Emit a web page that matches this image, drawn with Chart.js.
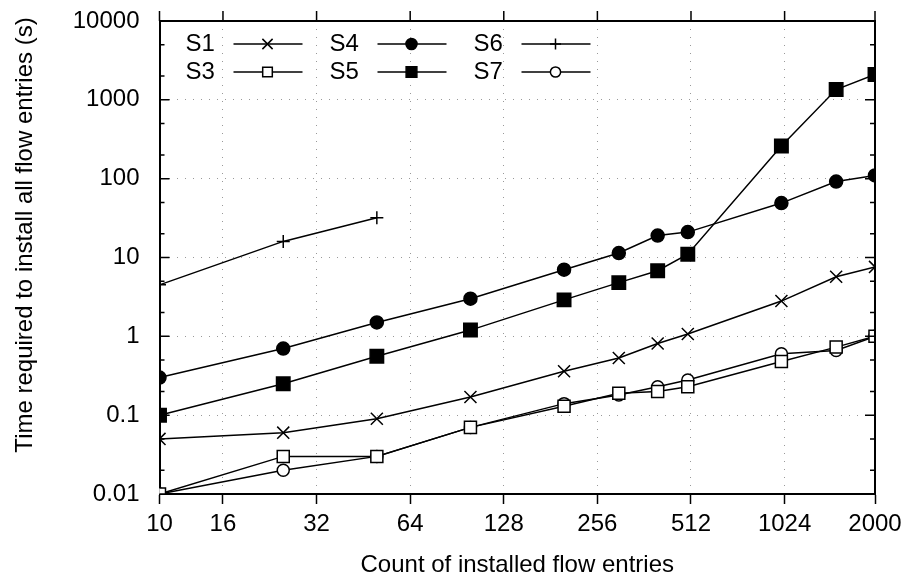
<!DOCTYPE html>
<html>
<head>
<meta charset="utf-8">
<script src="https://cdn.jsdelivr.net/npm/chart.js@4.4.1/dist/chart.umd.min.js"></script>
<style>
  html, body { margin: 0; padding: 0; background: #fff; }
  #wrap { width: 912px; height: 580px; }
</style>
</head>
<body>
<div id="wrap"><canvas id="flowChart"></canvas></div>
<script>
// cantidad de entradas instaladas (eje x, log2)
const counts = [10, 25, 50, 100, 200, 300, 400, 500, 1000, 1500, 2000];
const countsS6 = [10, 25, 50];

// tiempos en segundos por switch
const s1 = [0.05, 0.06, 0.09, 0.17, 0.36, 0.53, 0.81, 1.07, 2.8, 5.7, 7.6];
const s3 = [0.01, 0.03, 0.03, 0.07, 0.13, 0.19, 0.2, 0.23, 0.48, 0.73, 1.0];
const s4 = [0.3, 0.7, 1.5, 3.0, 7.0, 11.4, 19, 21, 49, 92, 110];
const s5 = [0.1, 0.25, 0.56, 1.2, 2.9, 4.8, 6.8, 11, 260, 1350, 2100];
const s6 = [4.5, 16, 32];
const s7 = [0.01, 0.02, 0.03, 0.07, 0.14, 0.18, 0.23, 0.28, 0.6, 0.66, 1.0];

const xTicks = [10, 16, 32, 64, 128, 256, 512, 1024, 2000];
const yTicks = [0.01, 0.1, 1, 10, 100, 1000, 10000];

const FONT = "'Liberation Sans', Arial, Helvetica, sans-serif";

function puntos(xs, ys) {
    return ys.map((v, i) => ({ x: xs[i], y: v }));
}

function serie(label, xs, ys, estilo, radio, relleno) {
    return {
        label: label,
        data: puntos(xs, ys),
        borderColor: "#000",
        borderWidth: 1.5,
        pointStyle: estilo,
        pointRadius: radio,
        pointBorderColor: "#000",
        pointBorderWidth: 1.5,
        pointBackgroundColor: relleno ? "#000" : "#fff",
        fill: false,
        tension: 0,
    };
}

const datasets = [
    serie("S1", counts, s1, "crossRot", 8.5, false),
    serie("S3", counts, s3, "rect", 8.5, false),
    serie("S4", counts, s4, "circle", 6.5, true),
    serie("S5", counts, s5, "rect", 9.5, true),
    serie("S6", countsS6, s6, "cross", 6.5, false),
    serie("S7", counts, s7, "circle", 6, false),
];

/* marco, ticks hacia dentro, leyenda y titulos de ejes */
const marcoPlugin = {
    id: "marco",
    afterDatasetsDraw(chart) {
        const ctx = chart.ctx;
        const area = chart.chartArea;
        const xs = chart.scales.x;
        const ys = chart.scales.y;

        ctx.save();
        ctx.strokeStyle = "#000";

        // borde superior y derecho
        ctx.lineWidth = 2;
        ctx.beginPath();
        ctx.moveTo(area.left, area.top);
        ctx.lineTo(area.right, area.top);
        ctx.lineTo(area.right, area.bottom);
        ctx.stroke();

        // ticks del eje y (mayores y menores 2, 5) hacia dentro
        ctx.lineWidth = 1.5;
        ctx.beginPath();
        yTicks.forEach(v => {
            const py = ys.getPixelForValue(v);
            ctx.moveTo(area.left, py); ctx.lineTo(area.left + 10, py);
            ctx.moveTo(area.right, py); ctx.lineTo(area.right - 10, py);
        });
        yTicks.slice(0, -1).forEach(d => {
            [2, 5].forEach(m => {
                const py = ys.getPixelForValue(d * m);
                ctx.moveTo(area.left, py); ctx.lineTo(area.left + 5, py);
                ctx.moveTo(area.right, py); ctx.lineTo(area.right - 5, py);
            });
        });
        // ticks superiores del eje x hacia fuera
        xTicks.forEach(v => {
            const px = xs.getPixelForValue(v);
            ctx.moveTo(px, area.top); ctx.lineTo(px, area.top - 10);
        });
        ctx.stroke();

        // leyenda: 3 columnas x 2 filas
        ctx.font = "24px " + FONT;
        ctx.textBaseline = "middle";
        ctx.textAlign = "left";
        ctx.fillStyle = "#000";
        chart.data.datasets.forEach((ds, i) => {
            const col = Math.floor(i / 2);
            const fila = i % 2;
            const x0 = area.left + 26 + col * 144;
            const y0 = area.top + 23 + fila * 28;
            ctx.fillText(ds.label, x0, y0);
            ctx.lineWidth = 1.5;
            ctx.strokeStyle = "#000";
            ctx.beginPath();
            ctx.moveTo(x0 + 48, y0);
            ctx.lineTo(x0 + 117, y0);
            ctx.stroke();
            ctx.fillStyle = ds.pointBackgroundColor;
            Chart.helpers.drawPoint(ctx, {
                pointStyle: ds.pointStyle,
                radius: ds.pointStyle === "rect" ? ds.pointRadius * 0.8 : ds.pointRadius * 0.85,
                rotation: 0,
                borderWidth: 1.5,
            }, x0 + 82, y0);
            ctx.fillStyle = "#000";
        });

        // titulos de ejes
        ctx.textAlign = "center";
        ctx.fillText("Count of installed flow entries", (area.left + area.right) / 2, 565);
        ctx.translate(25, 235);
        ctx.rotate(-Math.PI / 2);
        ctx.fillText("Time required to install all flow entries (s)", 0, 0);
        ctx.restore();
    },
};

new Chart(document.getElementById("flowChart"), {
    type: "line",
    data: { datasets: datasets },
    plugins: [marcoPlugin],
    options: {
        responsive: true,
        maintainAspectRatio: false,
        animation: false,
        layout: { padding: { left: 0, right: 37, top: 21, bottom: 0 } },
        plugins: {
            legend: { display: false },
            tooltip: { enabled: false },
        },
        scales: {
            x: {
                type: "logarithmic",
                min: 10,
                max: 2000,
                afterBuildTicks: (scale) => {
                    scale.ticks = xTicks.map(v => ({ value: v }));
                },
                afterFit: (scale) => {
                    scale.height = 86;
                    scale.paddingLeft = 0;
                    scale.paddingRight = 0;
                },
                ticks: {
                    color: "#000",
                    font: { family: FONT, size: 24 },
                    padding: 6,
                    maxRotation: 0,
                    autoSkip: false,
                    callback: (v) => String(v),
                },
                grid: {
                    color: "#999",
                    lineWidth: 1,
                    drawTicks: true,
                    tickLength: 10,
                    tickColor: "#000",
                    tickWidth: 1.5,
                },
                border: { color: "#000", width: 2, dash: [1, 7] },
            },
            y: {
                type: "logarithmic",
                min: 0.01,
                max: 10000,
                afterBuildTicks: (scale) => {
                    scale.ticks = yTicks.map(v => ({ value: v }));
                },
                afterFit: (scale) => {
                    scale.width = 159.5;
                    scale.paddingTop = 0;
                    scale.paddingBottom = 0;
                },
                ticks: {
                    color: "#000",
                    font: { family: FONT, size: 24 },
                    padding: 20,
                    autoSkip: false,
                    callback: (v) => String(v),
                },
                grid: {
                    color: "#999",
                    lineWidth: 1,
                    drawTicks: false,
                },
                border: { color: "#000", width: 2, dash: [1, 7] },
            },
        },
    },
});
</script>
</body>
</html>
